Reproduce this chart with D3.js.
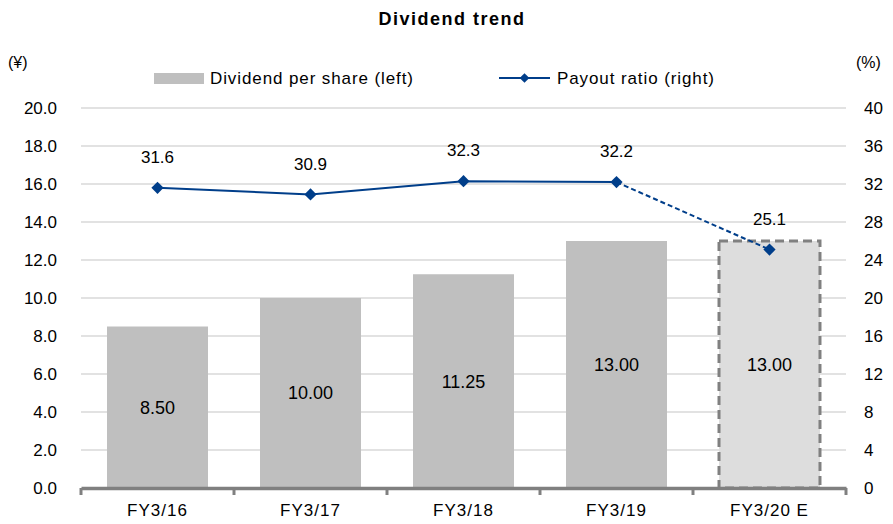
<!DOCTYPE html>
<html>
<head>
<meta charset="utf-8">
<script src="https://cdn.jsdelivr.net/npm/d3@7"></script>
<style>
  body { margin: 0; background: #fff; }
  text { font-family: "Liberation Sans", Arial, sans-serif; fill: #000; }
</style>
</head>
<body>
<div id="root"></div>
<script>
const categories = ["FY3/16", "FY3/17", "FY3/18", "FY3/19", "FY3/20 E"];
const dividends = [8.5, 10.0, 11.25, 13.0, 13.0];
const payout = [31.6, 30.9, 32.3, 32.2, 25.1];
const leftTicks = [0, 2, 4, 6, 8, 10, 12, 14, 16, 18, 20];
const rightTicks = [0, 4, 8, 12, 16, 20, 24, 28, 32, 36, 40];

const outerWidth = 893;
const outerHeight = 524;
const margin = { top: 108, right: 47, bottom: 36, left: 81 };
const width = outerWidth - margin.left - margin.right;
const height = outerHeight - margin.top - margin.bottom;

const svg = d3.select("#root").append("svg")
    .attr("width", outerWidth)
    .attr("height", outerHeight);

const chart = svg.append("g")
    .attr("transform", `translate(${margin.left}, ${margin.top})`);

let scaleX = d3.scaleBand().domain(categories).range([0, width]).paddingInner(0.34).paddingOuter(0.17);
let scaleY = d3.scaleLinear().domain([0, 20]).range([height, 0]);
let scaleY2 = d3.scaleLinear().domain([0, 40]).range([height, 0]);

// gridlines
chart.selectAll(".grid").data(leftTicks.slice(1))
    .enter().append("line")
    .attr("x1", 0).attr("x2", width)
    .attr("y1", d => scaleY(d)).attr("y2", d => scaleY(d))
    .attr("stroke", "#d9d9d9").attr("stroke-width", 1.3);

// left axis labels
chart.selectAll(".ly").data(leftTicks)
    .enter().append("text")
    .attr("x", -24).attr("y", d => scaleY(d))
    .attr("dy", "0.36em")
    .attr("text-anchor", "end")
    .style("font-size", "17px")
    .text(d => d.toFixed(1));

// right axis labels
chart.selectAll(".ry").data(rightTicks)
    .enter().append("text")
    .attr("x", width + 18).attr("y", d => scaleY2(d))
    .attr("dy", "0.36em")
    .attr("text-anchor", "start")
    .style("font-size", "17px")
    .text(d => d);

// bars
const last = categories.length - 1;
chart.selectAll(".bar").data(dividends)
    .enter().append("rect")
    .attr("x", (d, i) => scaleX(categories[i]))
    .attr("y", d => scaleY(d))
    .attr("width", scaleX.bandwidth())
    .attr("height", d => height - scaleY(d))
    .attr("fill", (d, i) => i === last ? "#dddddd" : "#bfbfbf")
    .attr("stroke", (d, i) => i === last ? "#808080" : "none")
    .attr("stroke-width", 3)
    .attr("stroke-dasharray", "9,5");

// bar labels
chart.selectAll(".blabel").data(dividends)
    .enter().append("text")
    .attr("x", (d, i) => scaleX(categories[i]) + scaleX.bandwidth() / 2)
    .attr("y", d => (scaleY(d) + height) / 2)
    .attr("dy", "0.36em")
    .attr("text-anchor", "middle")
    .style("font-size", "18px")
    .text(d => d.toFixed(2));

// x axis
let xAxis = d3.axisBottom(scaleX).tickSizeInner(0).tickSizeOuter(0).tickPadding(16);
const xg = chart.append("g")
    .attr("transform", `translate(0, ${height})`)
    .call(xAxis);
xg.select(".domain").attr("stroke", "#808080").attr("stroke-width", 3.5);
xg.selectAll("text").style("font-size", "17px")
    .style("letter-spacing", "1px")
    .style("font-family", "\"Liberation Sans\", Arial, sans-serif");
xg.selectAll(".tickmark").data(d3.range(categories.length + 1))
    .enter().append("line")
    .attr("x1", i => i * scaleX.step()).attr("x2", i => i * scaleX.step())
    .attr("y1", 0).attr("y2", 7)
    .attr("stroke", "#808080").attr("stroke-width", 3);

// payout line
const px = i => scaleX(categories[i]) + scaleX.bandwidth() / 2;
const line = d3.line().x((d, i) => px(i)).y(d => scaleY2(d));
chart.append("path")
    .datum(payout.slice(0, last))
    .attr("d", line)
    .attr("fill", "none").attr("stroke", "#003e8a").attr("stroke-width", 2);
chart.append("path")
    .attr("d", d3.line()([[px(last - 1), scaleY2(payout[last - 1])], [px(last), scaleY2(payout[last])]]))
    .attr("fill", "none").attr("stroke", "#003e8a").attr("stroke-width", 2)
    .attr("stroke-dasharray", "5,3");

chart.selectAll(".marker").data(payout)
    .enter().append("path")
    .attr("d", d3.symbol().type(d3.symbolDiamond2).size(95))
    .attr("transform", (d, i) => `translate(${px(i)}, ${scaleY2(d)})`)
    .attr("fill", "#003e8a");

chart.selectAll(".plabel").data(payout)
    .enter().append("text")
    .attr("x", (d, i) => px(i))
    .attr("y", d => scaleY2(d) - 31)
    .attr("dy", "0.36em")
    .attr("text-anchor", "middle")
    .style("font-size", "17px")
    .text(d => d.toFixed(1));

// title
svg.append("text")
    .attr("x", 452).attr("y", 25)
    .attr("text-anchor", "middle")
    .style("font-size", "18px").style("font-weight", "bold")
    .style("letter-spacing", "1.5px")
    .text("Dividend trend");

// unit labels
svg.append("text").attr("x", 8).attr("y", 68).style("font-size", "16px").text("(¥)");
svg.append("text").attr("x", 856).attr("y", 68).style("font-size", "16px").text("(%)");

// legend
svg.append("rect").attr("x", 154).attr("y", 73).attr("width", 50).attr("height", 11).attr("fill", "#bfbfbf");
svg.append("text").attr("x", 210).attr("y", 84).style("font-size", "17px")
    .style("letter-spacing", "0.9px").text("Dividend per share (left)");
svg.append("line").attr("x1", 499).attr("x2", 550).attr("y1", 78).attr("y2", 78)
    .attr("stroke", "#003e8a").attr("stroke-width", 2);
svg.append("path").attr("d", d3.symbol().type(d3.symbolDiamond2).size(60))
    .attr("transform", "translate(524.5, 78)").attr("fill", "#003e8a");
svg.append("text").attr("x", 557).attr("y", 84).style("font-size", "17px")
    .style("letter-spacing", "0.9px").text("Payout ratio (right)");
</script>
</body>
</html>
